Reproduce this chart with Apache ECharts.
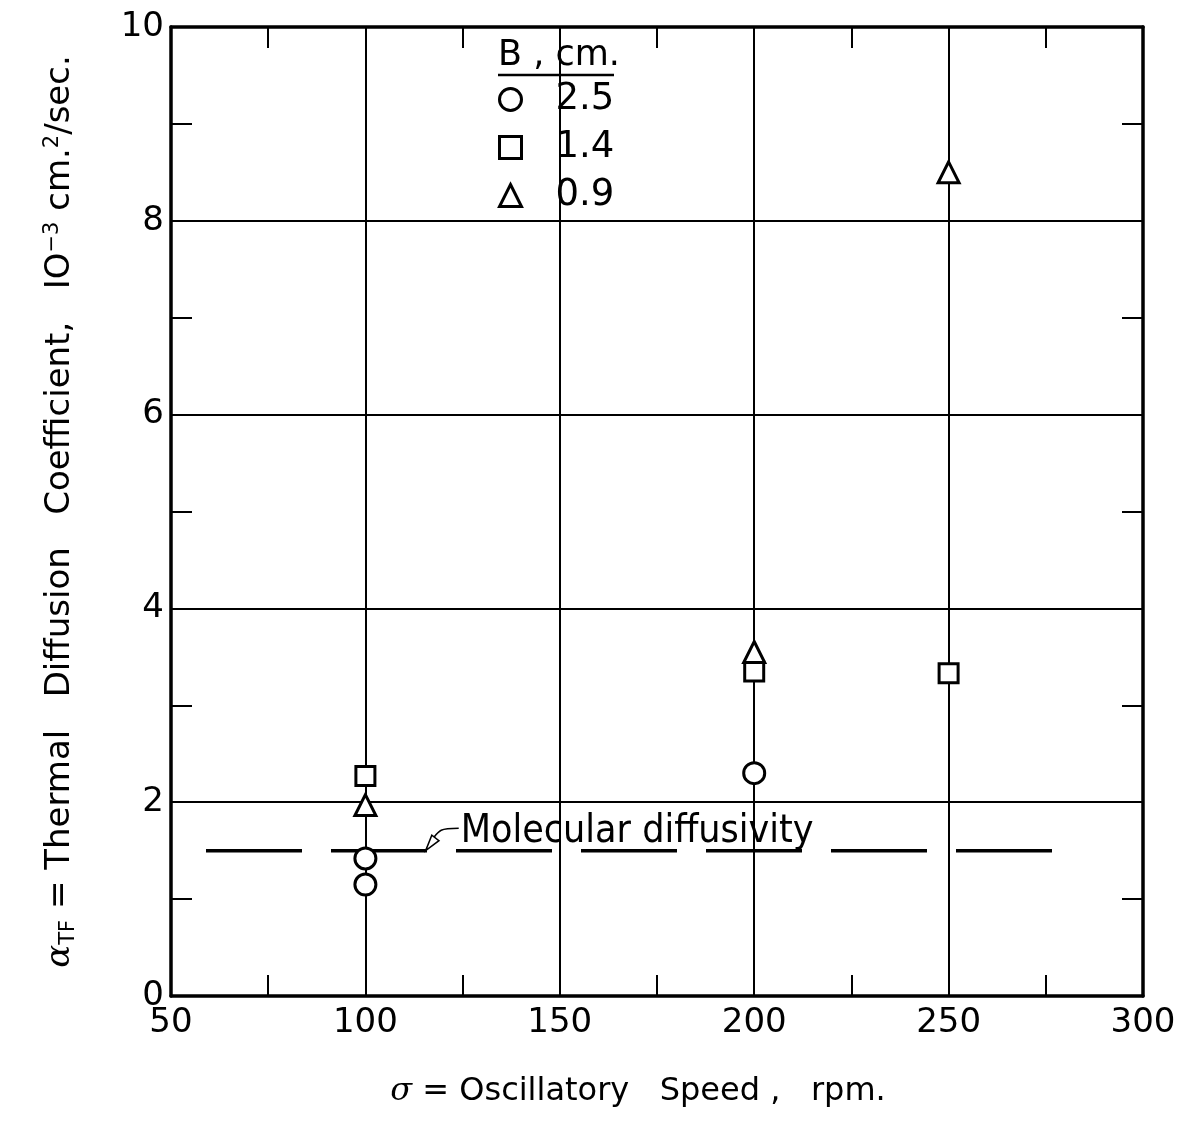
<!DOCTYPE html>
<html>
<head>
<meta charset="utf-8">
<script src="https://cdn.jsdelivr.net/npm/echarts@6/dist/echarts.min.js"></script>
<style>
html,body{margin:0;padding:0;background:#fff;}
#chart{width:1184px;height:1126px;}
</style>
</head>
<body>
<div id="chart"></div>
<script>
// ---- data ----
var xTicks = [50, 100, 150, 200, 250, 300];
var yTicks = [0, 2, 4, 6, 8, 10];
var legendTitle = 'B , cm.';
var seriesNames = ['2.5', '1.4', '0.9'];
var circle25 = [[100, 1.15], [100, 1.42], [200, 2.3]];
var square14 = [[100, 2.27], [200, 3.35], [250, 3.33]];
var triangle09 = [[100, 1.97], [200, 3.55], [250, 8.5]];
var molecularLine = [[59, 1.5], [278, 1.5]];
var molecularLabel = 'Molecular diffusivity';
var leaderPts = [[124, 1.73], [119.5, 1.71], [115.5, 1.5]];

var FONT = 'DejaVu Sans';
var COND = 'DejaVu Sans Condensed';
var chart = echarts.init(document.getElementById('chart'));

function markerSeries(name, sym, data, size) {
  return {
    name: name, type: 'scatter', symbol: sym, symbolSize: size, data: data,
    xAxisIndex: 0, yAxisIndex: 0, z: 5,
    itemStyle: {color: '#fff', borderColor: '#000', borderWidth: 3, opacity: 1}
  };
}

function tick() { return {show: true, inside: true, length: 21, lineStyle: {color: '#000', width: 2}}; }
function minor() { return {show: true, splitNumber: 2, length: 21, lineStyle: {color: '#000', width: 2}}; }
function aline() { return {onZero: false, lineStyle: {color: '#000', width: 3.5}}; }

var option = {
  backgroundColor: '#fff',
  animation: false,
  grid: {left: 171, right: 41, top: 27, bottom: 130, containLabel: false},
  legend: {
    data: seriesNames, orient: 'vertical', left: 493, top: 76,
    itemWidth: 22, itemHeight: 22, itemGap: 11,
    itemStyle: {color: '#fff', borderColor: '#000', borderWidth: 3},
    textStyle: {fontFamily: FONT, fontSize: 37, lineHeight: 37, color: '#000', padding: [0, 0, 0, 29]},
    selectedMode: false
  },
  xAxis: [{
    type: 'value', min: xTicks[0], max: xTicks[xTicks.length - 1], interval: 50,
    position: 'bottom',
    name: '{g|σ} = Oscillatory   Speed ,   rpm.', nameLocation: 'middle', nameGap: 80,
    nameTextStyle: {fontFamily: FONT, fontSize: 32, color: '#000', padding: [0, 38, 0, 0],
      rich: {g: {fontFamily: 'DejaVu Serif', fontStyle: 'italic', fontSize: 32, color: '#000'}}},
    axisLine: aline(),
    axisTick: tick(),
    minorTick: minor(),
    axisLabel: {fontFamily: FONT, fontSize: 34, color: '#000', margin: 10},
    splitLine: {show: true, lineStyle: {color: '#000', width: 2}}
  }, {
    type: 'value', min: xTicks[0], max: xTicks[xTicks.length - 1], interval: 50,
    position: 'top',
    axisLine: aline(),
    axisTick: tick(),
    minorTick: minor(),
    axisLabel: {show: false},
    splitLine: {show: false}
  }],
  yAxis: [{
    type: 'value', min: yTicks[0], max: yTicks[yTicks.length - 1], interval: 2,
    position: 'left',
    name: '{a|α}{sub|TF} = Thermal   Diffusion   Coefficient,   IO{sup|−3} cm.{sup|2}/sec.',
    nameLocation: 'middle', nameGap: 92,
    nameTextStyle: {fontFamily: FONT, fontSize: 34, color: '#000',
      rich: {
        a: {fontFamily: 'DejaVu Serif', fontStyle: 'italic', fontSize: 34, color: '#000'},
        sub: {fontFamily: FONT, fontSize: 21, color: '#000', padding: [16, 0, 0, 0]},
        sup: {fontFamily: FONT, fontSize: 21, color: '#000', padding: [0, 0, 16, 0]}
      }},
    axisLine: aline(),
    axisTick: tick(),
    minorTick: minor(),
    axisLabel: {fontFamily: FONT, fontSize: 34, color: '#000', margin: 7},
    splitLine: {show: true, lineStyle: {color: '#000', width: 2}}
  }, {
    type: 'value', min: yTicks[0], max: yTicks[yTicks.length - 1], interval: 2,
    position: 'right',
    axisLine: aline(),
    axisTick: tick(),
    minorTick: minor(),
    axisLabel: {show: false},
    splitLine: {show: false}
  }],
  series: [
    {
      name: 'molecular', type: 'line', data: molecularLine, symbol: 'none', z: 3,
      lineStyle: {color: '#000', width: 3.5, type: [96, 29]}
    },
    {
      name: 'leader', type: 'line', data: leaderPts, symbol: 'none', z: 3, smooth: 0.3,
      lineStyle: {color: '#000', width: 1.5}
    },
    {
      name: 'molLabel', type: 'scatter', data: [[leaderPts[0][0], leaderPts[0][1]]], symbolSize: 0,
      itemStyle: {opacity: 1},
      label: {show: true, position: 'right', distance: 2, offset: [0, 4], formatter: molecularLabel,
        fontFamily: COND, fontSize: 39, color: '#000', opacity: 1}
    },
    markerSeries(seriesNames[0], 'circle', circle25, 21),
    markerSeries(seriesNames[1], 'rect', square14, 19),
    markerSeries(seriesNames[2], 'triangle', triangle09, 21)
  ]
};
chart.setOption(option);

// underline under legend title, and arrowhead on leader line
var end = chart.convertToPixel({xAxisIndex: 0, yAxisIndex: 0}, leaderPts[2]);
var prev = chart.convertToPixel({xAxisIndex: 0, yAxisIndex: 0}, leaderPts[1]);
var ang = Math.atan2(end[1] - prev[1], end[0] - prev[0]);
var L = 16, W = 4.5;
var bx = end[0] - L * Math.cos(ang), by = end[1] - L * Math.sin(ang);
var px = -Math.sin(ang) * W, py = Math.cos(ang) * W;
chart.setOption({
  graphic: [{
    type: 'text', left: 498, top: 38,
    style: {text: legendTitle, fontFamily: FONT, fontSize: 35, fill: '#000'}
  }, {
    type: 'line', shape: {x1: 498, y1: 75, x2: 614, y2: 75},
    style: {stroke: '#000', lineWidth: 2.5}
  }, {
    type: 'polygon',
    shape: {points: [[end[0], end[1]], [bx + px, by + py], [bx - px, by - py]]},
    style: {fill: '#fff', stroke: '#000', lineWidth: 1.5}, z: 10
  }]
});
</script>
</body>
</html>
